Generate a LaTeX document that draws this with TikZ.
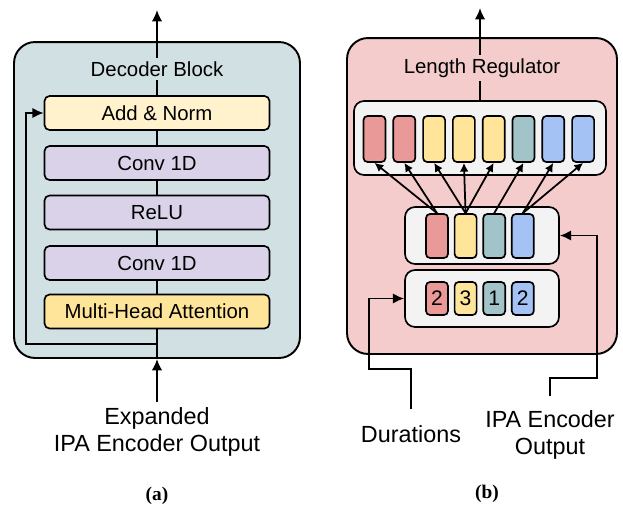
\documentclass[tikz,border=0pt]{standalone}
\usepackage{fontspec}
\setsansfont{Liberation Sans}
\newfontfamily\capfont{Liberation Serif}
\usepackage{tikz}
\usetikzlibrary{arrows.meta}
\usetikzlibrary{calc}

\definecolor{decfill}{HTML}{D0E0E3}
\definecolor{lenfill}{HTML}{F4CCCC}
\definecolor{convfill}{HTML}{D9D2E9}
\definecolor{normfill}{HTML}{FFF2CC}
\definecolor{attnfill}{HTML}{FFE599}
\definecolor{trayfill}{HTML}{F3F3F3}
\definecolor{redbar}{HTML}{EA9999}
\definecolor{yelbar}{HTML}{FFE599}
\definecolor{tealbar}{HTML}{A2C4C9}
\definecolor{bluebar}{HTML}{A4C2F4}

\begin{document}
\begin{tikzpicture}[x=0.02cm,y=-0.02cm,font=\sffamily,
	panel/.style={draw,line width=1.1pt,rounded corners=0.42cm,inner sep=0pt,minimum height=6.32cm},
	blk/.style={draw,line width=0.95pt,rounded corners=0.1cm,minimum width=4.5cm,minimum height=0.68cm,inner sep=0pt,font=\sffamily\fontsize{11.6}{13}\selectfont},
	tray/.style={draw,line width=0.95pt,rounded corners=0.2cm,fill=trayfill,inner sep=0pt},
	bar/.style={draw,line width=0.95pt,rounded corners=0.08cm,minimum width=0.44cm,inner sep=0pt},
	ttl/.style={anchor=base,inner sep=2pt,font=\sffamily\fontsize{11.6}{13}\selectfont},
	lbl/.style={align=center,inner sep=1pt,font=\sffamily\fontsize{13.3}{15.5}\selectfont},
	arr/.style={line width=1.1pt,-{Latex[length=6.5pt,width=6pt]}},
	small arr/.style={line width=1pt,-{Latex[length=5pt,width=5pt]}}]
	\useasboundingbox (0,0) rectangle (623,505);

	% (a) decoder block
	\node[panel,fill=decfill,minimum width=5.72cm] (dec) at (157,200) {};
	\node[blk,fill=normfill] (add) at (157,113) {Add \& Norm};
	\node[blk,fill=convfill] (conva) at (157,163) {Conv 1D};
	\node[blk,fill=convfill] (relu) at (157,212.5) {ReLU};
	\node[blk,fill=convfill] (convb) at (157,263) {Conv 1D};
	\node[blk,fill=attnfill] (mha) at (157,311.5) {Multi-Head Attention};
	\foreach \a/\b in {mha/convb,convb/relu,relu/conva,conva/add}
		\draw[line width=1.1pt] (\a.north) -- (\b.south);
	\coordinate (decout) at (157,10);
	\coordinate (split) at (157,344);
	\coordinate (skip) at (26,344);
	\draw[arr] (add.north) -- (decout);
	\node[ttl,fill=decfill] (dectitle) at (157,76) {Decoder Block};
	\draw[line width=1.1pt] (dec.south) -- (mha.south);
	\draw[arr] (split) -- (skip) |- (add.west);
	\node[lbl] (decin) at (157,432) {Expanded\\IPA Encoder Output};
	\draw[arr] ([yshift=0.06cm]decin.north) -- (dec.south);
	\node[font=\capfont\bfseries\fontsize{11}{13}\selectfont] (capa) at (157,496) {(a)};

	% (b) length regulator
	\node[panel,fill=lenfill,minimum width=5.4cm] (lr) at (482,196) {};
	\node[tray,minimum width=5.04cm,minimum height=1.48cm] (outtray) at (480,138) {};
	\node[tray,minimum width=3.08cm,minimum height=1.14cm] (toktray) at (482,235.5) {};
	\node[tray,minimum width=3.08cm,minimum height=1.14cm] (durtray) at (482,298.5) {};
	\foreach \c [count=\i] in {redbar,redbar,yelbar,yelbar,yelbar,tealbar,bluebar,bluebar}
		\node[bar,fill=\c,minimum height=0.92cm] (out\i) at ({374.5+29.8*(\i-1)},139) {};
	\foreach \c/\n [count=\i] in {redbar/2,yelbar/3,tealbar/1,bluebar/2} {
		\node[bar,fill=\c,minimum height=0.66cm,font=\sffamily\fontsize{12}{13}\selectfont] (dur\i) at ({437+28.6*(\i-1)},298.5) {\n};
		\node[bar,fill=\c,minimum height=0.88cm] (tok\i) at ({437+28.6*(\i-1)},236) {};
	}
	\foreach \s/\t in {1/1,1/2,2/3,2/4,2/5,3/6,4/7,4/8}
		\draw[small arr] (tok\s.north) -- (out\t.south);
	\coordinate (lrout) at (480,8);
	\draw[arr] (outtray.north) -- (lrout);
	\node[ttl,fill=lenfill] (lrtitle) at (482,73) {Length Regulator};
	\node[lbl] (durlbl) at (411,434) {Durations};
	\node[lbl] (ipalbl) at (550,435) {IPA Encoder\\Output};
	\coordinate (durbend) at (369,369);
	\coordinate (ipabend) at (597,378);
	\draw[arr] ([yshift=0.28cm]durlbl.north) |- (durbend) |- (durtray.west);
	\draw[arr] ([yshift=0.24cm]ipalbl.north) |- (ipabend) |- (toktray.east);
	\node[font=\capfont\bfseries\fontsize{11}{13}\selectfont] (capb) at (487,494) {(b)};
\end{tikzpicture}
\end{document}
